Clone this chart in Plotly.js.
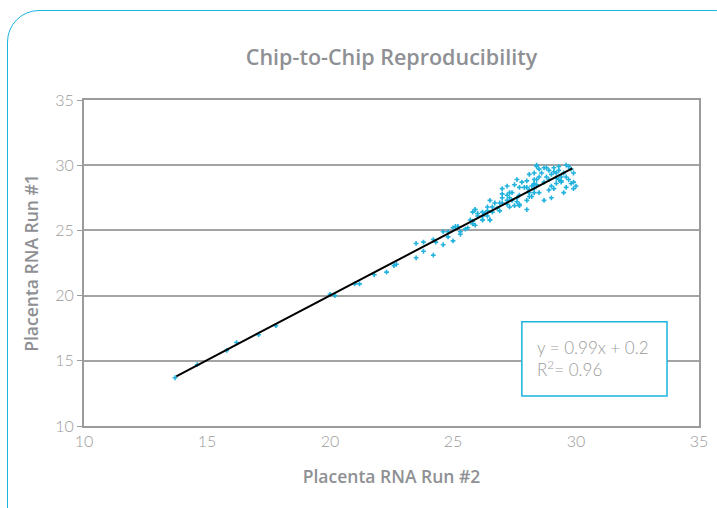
<!DOCTYPE html>
<html>
<head>
<meta charset="utf-8">
<script src="https://cdn.plot.ly/plotly-3.0.1.min.js"></script>
<style>
html,body{margin:0;padding:0;background:#fff;overflow:hidden;}
#wrap{position:relative;width:717px;height:508px;overflow:hidden;}
#chart{position:absolute;left:0;top:0;width:717px;height:508px;}
#frame{position:absolute;left:7px;top:10px;width:740px;height:540px;border:1.5px solid #1ab4e0;border-radius:32px;pointer-events:none;box-sizing:border-box;}
</style>
</head>
<body>
<div id="wrap"><div id="chart"></div><div id="frame"></div></div>
<script>
// Placenta RNA Run #2 (x) vs Run #1 (y)
const run2 = [
13.7,14.6,15.8,16.2,17.1,17.8,20.0,20.2,21.0,21.2,21.8,22.3,22.6,22.7,23.5,23.5,
23.8,23.8,24.2,24.2,24.3,24.6,24.6,24.8,24.8,25.0,25.1,25.0,25.2,25.3,25.3,25.5,
25.6,25.7,25.8,25.9,25.9,25.8,26.0,26.2,26.2,26.4,26.5,26.4,
28.4,28.5,28.1,28.3,28.0,27.8,27.6,27.5,27.7,27.9,28.0,28.2,28.3,28.1,28.1,28.1,
28.0,28.3,27.4,27.3,27.2,27.0,27.0,27.3,27.4,27.6,27.7,27.6,27.5,27.7,27.3,27.2,
27.0,26.9,26.7,26.6,26.8,26.9,26.6,26.4,26.3,26.2,25.9,26.0,26.2,26.5,25.8,27.2,
27.0,27.2,26.5,
28.4,28.7,28.9,29.1,29.1,29.0,29.2,29.3,29.6,29.7,29.8,29.5,29.4,29.6,29.4,29.3,
29.2,28.9,28.8,28.7,28.4,28.3,28.3,28.5,28.9,29.1,29.5,29.9,30.0,29.9,29.8,28.7,
29.0,29.4,29.2,28.2,28.8,29.9,28.5,28.3,28.4,28.0,27.7,29.6,29.7,29.3,28.6,29.0
];
const run1 = [
13.7,14.7,15.8,16.4,17.0,17.7,20.1,20.0,20.9,20.9,21.6,21.8,22.3,22.4,24.0,22.9,
24.1,23.4,24.3,23.1,24.1,24.9,23.9,24.9,24.5,25.2,25.3,24.2,25.3,24.7,24.9,25.1,
25.2,25.8,25.5,25.4,26.6,26.4,26.3,26.4,25.8,26.1,25.8,26.8,
29.9,29.7,29.3,28.9,28.8,28.7,28.9,28.5,28.3,28.3,28.3,28.4,28.5,28.1,27.9,27.6,
27.3,27.9,27.9,27.9,27.7,27.8,27.5,27.5,27.3,27.5,27.7,27.2,26.9,26.9,26.8,27.0,
27.1,27.1,27.1,26.8,26.7,26.5,26.4,26.5,26.3,26.1,26.6,26.1,25.8,25.8,25.7,28.4,
28.2,27.3,27.3,
30.0,29.8,29.6,29.8,29.5,29.3,29.4,29.6,30.0,29.9,29.7,29.4,29.1,29.1,28.8,28.9,
29.0,28.9,29.1,28.7,28.9,28.6,28.2,27.9,28.1,28.2,27.9,28.2,28.4,28.7,28.6,27.3,
27.5,28.7,28.6,27.6,29.8,29.4,29.1,29.4,28.5,26.6,27.0,28.3,28.9,29.9,29.4,28.4
];
const xTicks = [10,15,20,25,30,35];
const yTicks = [10,15,20,25,30,35];
const slope = 0.99, intercept = 0.2, fitFrom = 13.75, fitTo = 29.85;
const eqText = "y = 0.99x + 0.2";
const r2Text = "R<sup>2</sup>= 0.96";

const fitX = [fitFrom, fitTo];
const fitY = fitX.map(v => slope * v + intercept);

const titleFont = '"Open Sans", Lato, sans-serif';
const data = [
  {x: run2, y: run1, type: 'scatter', mode: 'markers', name: 'Placenta RNA',
   marker: {symbol: 'cross', size: 4, color: '#22b2de', line: {width: 0}}, cliponaxis: false},
  {x: fitX, y: fitY, type: 'scatter', mode: 'lines', name: 'Linear fit',
   line: {color: '#000000', width: 2}}
];
const layout = {
  width: 717, height: 508,
  margin: {l: 84, r: 18, t: 100, b: 82},
  paper_bgcolor: 'rgba(0,0,0,0)', plot_bgcolor: '#ffffff',
  showlegend: false,
  font: {family: 'Lato, "Open Sans", sans-serif', color: '#8c8c8c'},
  title: {text: 'Chip-to-Chip Reproducibility', x: 0.5, xref: 'paper',
          y: 1 - 57/508, yref: 'container', yanchor: 'middle',
          font: {size: 21.5, color: '#8e9094', family: titleFont, weight: 600}},
  xaxis: {range: [10, 35], tickvals: xTicks, ticktext: xTicks.map(String),
          showgrid: false, zeroline: false, showline: true, linecolor: '#9b9b9b', linewidth: 2,
          mirror: true, ticks: '', tickfont: {size: 16, color: '#9a9a9a', weight: 300},
          title: {text: 'Placenta RNA Run #2', standoff: 22,
                  font: {size: 17.5, color: '#8e9094', family: titleFont, weight: 600}}},
  yaxis: {range: [10, 35], tickvals: yTicks, ticktext: yTicks.map(String),
          showgrid: true, gridcolor: '#a3a3a3', gridwidth: 2, zeroline: false,
          showline: true, linecolor: '#9b9b9b', linewidth: 2, mirror: true,
          ticks: 'outside', ticklen: 5, tickcolor: '#9b9b9b', tickwidth: 1,
          tickfont: {size: 16, color: '#9a9a9a', weight: 300},
          title: {text: 'Placenta RNA Run #1', standoff: 12,
                  font: {size: 17.5, color: '#8e9094', family: titleFont, weight: 600}}},
  shapes: [
    {type: 'rect', xref: 'x', yref: 'y', x0: 27.8, x1: 33.7, y0: 12.3, y1: 18.0,
     line: {color: '#1ab4e0', width: 1.5}, fillcolor: '#ffffff', layer: 'above'}
  ],
  annotations: [
    {xref: 'x', yref: 'y', x: 28.35, y: 15.15, xanchor: 'left', yanchor: 'middle',
     align: 'left', showarrow: false, text: eqText + '<br>' + r2Text,
     font: {size: 17, color: '#9a9a9a', weight: 300}}
  ]
};
Plotly.newPlot('chart', data, layout, {displayModeBar: false, staticPlot: true});
</script>
</body>
</html>
